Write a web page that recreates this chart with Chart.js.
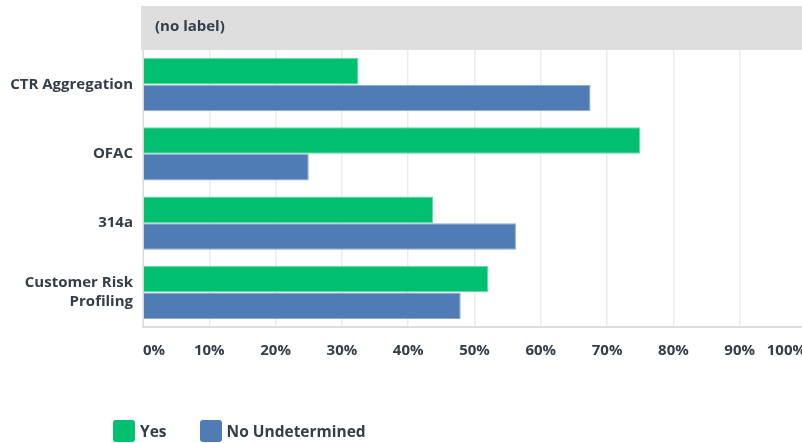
<!DOCTYPE html>
<html>
<head>
<meta charset="utf-8">
<script src="https://cdn.jsdelivr.net/npm/chart.js@4"></script>
<style>
  html, body { margin: 0; padding: 0; background: #fff; overflow: hidden; }
  #wrap { position: relative; width: 802px; height: 443px; overflow: hidden; }
  #chart { position: absolute; left: 0; top: 0; }
  #legend { position: absolute; left: 113px; top: 420px; display: flex; font-family: "Open Sans", sans-serif; font-weight: 700; font-size: 15.5px; color: #333e48; }
  #legend .item { display: flex; align-items: center; margin-right: 33px; }
  #legend .box { width: 22px; height: 22px; border-radius: 3px; margin-right: 5px; }
</style>
</head>
<body>
<div id="wrap">
  <canvas id="chart" width="806" height="443"></canvas>
  <div id="legend"></div>
</div>
<script>
// Survey answers, percent of respondents
const categories = ['CTR Aggregation', 'OFAC', '314a', ['Customer Risk', 'Profiling']];
const yesValues = [32.5, 75, 43.75, 52.08];
const noValues = [67.5, 25, 56.25, 47.92];
const seriesNames = ['Yes', 'No Undetermined'];
const xTicks = [0, 10, 20, 30, 40, 50, 60, 70, 80, 90, 100];
const groupLabel = '(no label)';

const textColor = '#333e48';
const fontFamily = '"Open Sans", sans-serif';

// grey band above the plot carrying the group label
const groupHeader = {
    id: 'groupHeader',
    beforeDraw(chart) {
        const ctx = chart.ctx;
        const area = chart.chartArea;
        ctx.save();
        ctx.fillStyle = '#dedede';
        ctx.fillRect(area.left - 2, 6, chart.width - area.left + 2, area.top - 6);
        ctx.fillStyle = textColor;
        ctx.font = 'bold 15px ' + fontFamily;
        ctx.textBaseline = 'middle';
        ctx.fillText(groupLabel, area.left + 12, 27);
        ctx.restore();
    }
};

const chart = new Chart(document.getElementById('chart'), {
    type: 'bar',
    data: {
        labels: categories,
        datasets: [
            {
                label: seriesNames[0],
                data: yesValues,
                backgroundColor: '#00bf6f',
                borderColor: '#6ad9a6',
                borderWidth: 1
            },
            {
                label: seriesNames[1],
                data: noValues,
                backgroundColor: '#507cb6',
                borderColor: '#8eaad2',
                borderWidth: 1
            }
        ]
    },
    options: {
        indexAxis: 'y',
        responsive: false,
        animation: false,
        categoryPercentage: 0.77,
        barPercentage: 0.99,
        layout: { padding: { top: 50, left: 0, right: 0, bottom: 0 } },
        scales: {
            x: {
                min: 0,
                max: 100,
                afterBuildTicks(axis) {
                    axis.ticks = xTicks.map(v => ({ value: v }));
                },
                afterFit(axis) { axis.height = 116; },
                // invisible tick marks push the labels down without adding side padding
                grid: { color: '#ececec', lineWidth: 1.5, drawTicks: true, tickLength: 15, tickColor: 'rgba(0,0,0,0)' },
                border: { color: '#dcdcdc', width: 2 },
                ticks: {
                    align: 'inner',
                    padding: 0,
                    color: textColor,
                    font: { family: fontFamily, size: 15, weight: 'bold' },
                    callback: v => v + '%'
                }
            },
            y: {
                afterFit(axis) { axis.width = 143; },
                grid: { display: false, drawTicks: false },
                border: { color: '#dcdcdc', width: 1 },
                ticks: {
                    padding: 10,
                    color: textColor,
                    font: { family: fontFamily, size: 15, weight: 'bold', lineHeight: 1.25 }
                }
            }
        },
        plugins: {
            legend: { display: false },
            tooltip: { enabled: false }
        }
    },
    plugins: [groupHeader]
});

// Legend
const legendEl = document.getElementById('legend');
chart.data.datasets.forEach(ds => {
    const item = document.createElement('div');
    item.className = 'item';
    item.innerHTML = `<span class="box" style="background:${ds.backgroundColor}"></span><span>${ds.label}</span>`;
    legendEl.appendChild(item);
});
</script>
</body>
</html>
